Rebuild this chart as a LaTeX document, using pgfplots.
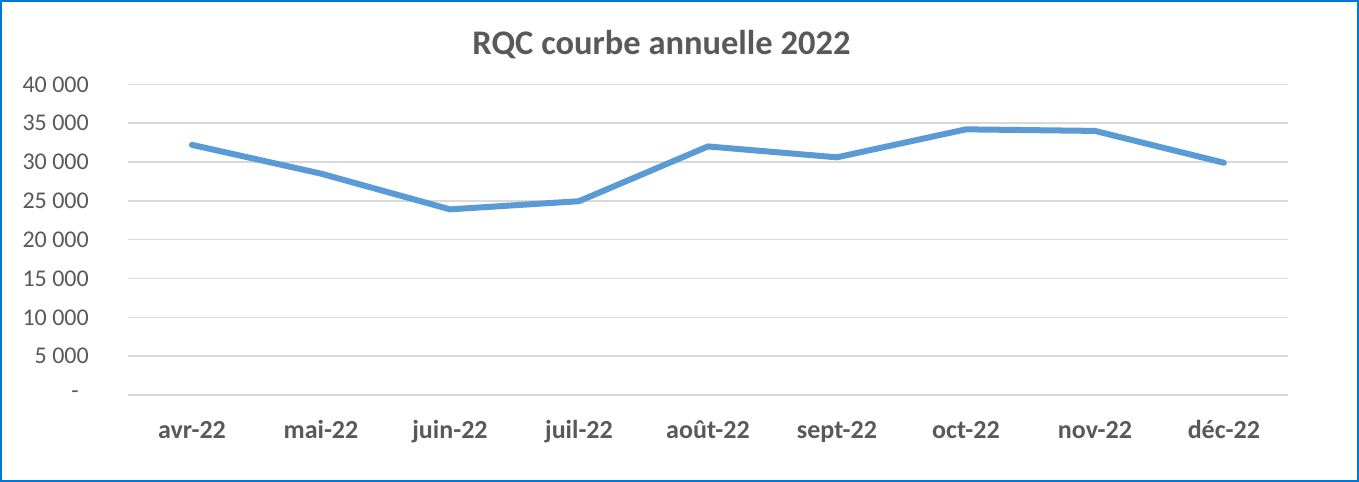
\documentclass[border=0pt]{standalone}
\usepackage{pgfplots}
\pgfplotsset{compat=1.18}
\usepackage{fontspec}
\setmainfont{Carlito}
\definecolor{txtgray}{HTML}{595959}
\definecolor{gridgray}{HTML}{D9D9D9}
\definecolor{linblue}{HTML}{5B9BD5}
\definecolor{frameblue}{RGB}{0,120,215}
\begin{document}
\begin{tikzpicture}
\useasboundingbox (0,0) rectangle (1359bp,482bp);
\fill[white] (0,0) rectangle (1359bp,482bp);
\draw[frameblue, line width=2bp] (1bp,1bp) rectangle (1358bp,481bp);
\node[anchor=base, text=txtgray, inner sep=0pt, font=\fontsize{34.5bp}{40bp}\selectfont\bfseries] at (661.5bp,427bp) {RQC courbe annuelle 2022};
\begin{axis}[
  at={(127.5bp,87bp)}, anchor=south west,
  scale only axis,
  width=1161bp, height=310.7bp,
  xmin=-0.5, xmax=8.5,
  ymin=0, ymax=40000,
  xtick={0,1,2,3,4,5,6,7,8},
  xticklabels={avr-22,mai-22,juin-22,juil-22,août-22,sept-22,oct-22,nov-22,déc-22},
  ytick={0,5000,10000,15000,20000,25000,30000,35000,40000},
  yticklabels={{-\rule{10bp}{0pt}},{5 000},{10 000},{15 000},{20 000},{25 000},{30 000},{35 000},{40 000}},
  scaled y ticks=false,
  major tick length=0pt,
  axis line style={draw=none},
  ymajorgrids,
  grid style={gridgray, line width=1.5bp},
  xticklabel style={anchor=base, inner sep=0pt, yshift=-43bp, text=txtgray, font=\fontsize{26bp}{30bp}\selectfont\bfseries},
  yticklabel style={anchor=east, inner sep=0pt, xshift=-38.5bp, text=txtgray, font=\fontsize{24bp}{28bp}\selectfont},
  clip=false,
]
\addplot[linblue, line width=6bp, line cap=round, line join=round, mark=none] coordinates {
  (0,32200) (1,28500) (2,23900) (3,24950) (4,32000) (5,30600) (6,34200) (7,34000) (8,29900)
};
\end{axis}
\end{tikzpicture}
\end{document}
